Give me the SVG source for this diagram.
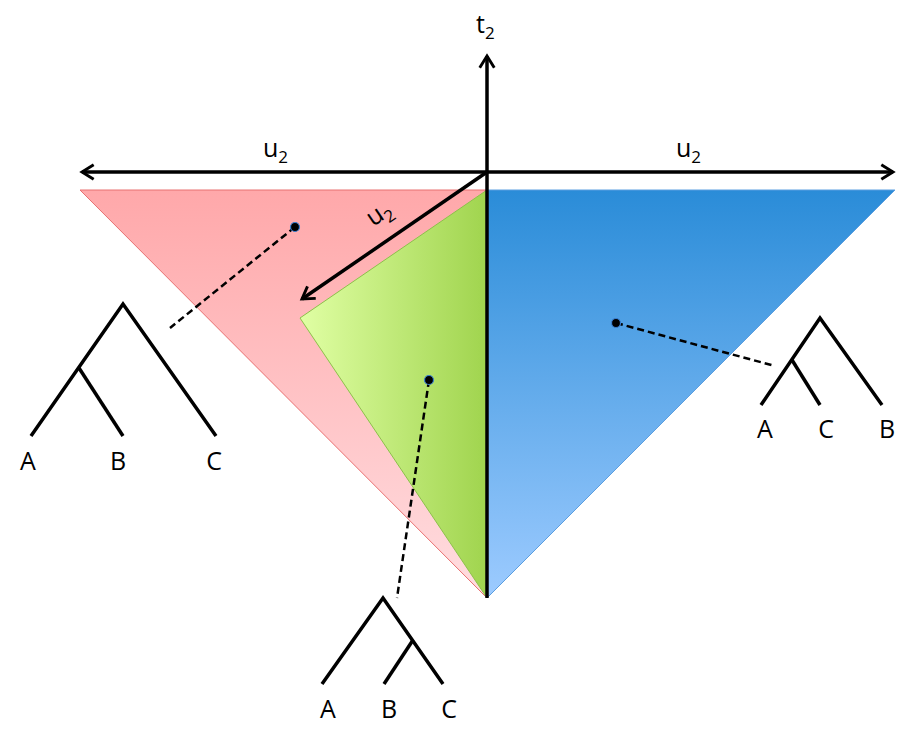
<svg xmlns="http://www.w3.org/2000/svg" width="921" height="734" viewBox="0 0 921 734">
<style>
.ax{stroke:#000;stroke-width:3.5;fill:none}
.tree{stroke:#000;stroke-width:3.5;fill:none;stroke-linecap:butt;stroke-linejoin:miter}
.dash{stroke:#000;stroke-width:2.5;stroke-dasharray:7,4;fill:none}
.dot{fill:#000;stroke:#3a7fd0;stroke-width:1.2}
text{font-family:"Open Sans","Liberation Sans",sans-serif;font-size:25px;fill:#000}
.sub{font-size:17px}
</style>
<defs>
<linearGradient id="gr" x1="0" y1="0" x2="0" y2="1">
<stop offset="0" stop-color="#ffa8aa"/><stop offset="1" stop-color="#ffdde0"/>
</linearGradient>
<linearGradient id="gb" x1="0" y1="0" x2="0" y2="1">
<stop offset="0" stop-color="#2a8cd8"/><stop offset="1" stop-color="#9dcbff"/>
</linearGradient>
<linearGradient id="gg" x1="0" y1="0" x2="1" y2="0">
<stop offset="0" stop-color="#e0ffa4"/><stop offset="1" stop-color="#a0d44e"/>
</linearGradient>
<marker id="ah" viewBox="0 0 12 12" refX="10" refY="6" markerWidth="5" markerHeight="5" markerUnits="strokeWidth" orient="auto-start-reverse">
<path d="M2,1 L10,6 L2,11" fill="none" stroke="#000" stroke-width="2"/>
</marker>
</defs>
<g id="regions">
<polygon id="red" points="80,190 487,190 487,598" fill="url(#gr)" stroke="#e87070" stroke-width="1"/>
<polygon id="blue" points="487,190 895,190 487,598" fill="url(#gb)" stroke="#5b9ee0" stroke-width="1"/>
<polygon id="green" points="487,190 300,318 487,598" fill="url(#gg)" stroke="#8cc04a" stroke-width="1"/>
</g>
<g id="connectors">
<line class="ax" x1="487" y1="598" x2="487" y2="56" marker-end="url(#ah)"/>
<line class="ax" x1="82" y1="172" x2="893" y2="172" marker-start="url(#ah)" marker-end="url(#ah)"/>
<line class="ax" x1="487" y1="172" x2="302" y2="299" marker-end="url(#ah)"/>
<line class="dash" x1="295" y1="227" x2="170" y2="328"/>
<line class="dash" x1="429" y1="380" x2="397" y2="598"/>
<line class="dash" x1="616" y1="323" x2="775" y2="366"/>
</g>
<g id="axis-labels">
<text x="476" y="33">t<tspan class="sub" dy="6">2</tspan></text>
<text x="263" y="157">u<tspan class="sub" dy="6">2</tspan></text>
<text x="676" y="157">u<tspan class="sub" dy="6">2</tspan></text>
<text transform="translate(373,227) rotate(-34)">u<tspan class="sub" dy="6">2</tspan></text>
</g>
<g id="points">
<circle class="dot" cx="295" cy="227" r="4.5"/>
<circle class="dot" cx="429" cy="380" r="4.5"/>
<circle class="dot" cx="616" cy="323" r="4.5"/>
</g>
<g id="tree-left">
<polyline class="tree" points="31,436 123,304 216,436"/>
<line class="tree" x1="79" y1="368" x2="123" y2="436"/>
<text x="28" y="470" text-anchor="middle">A</text>
<text x="118" y="470" text-anchor="middle">B</text>
<text x="214" y="470" text-anchor="middle">C</text>
</g>
<g id="tree-right">
<polyline class="tree" points="761,405 820,318 882,405"/>
<line class="tree" x1="792" y1="360" x2="820" y2="405"/>
<text x="765" y="438" text-anchor="middle">A</text>
<text x="826" y="438" text-anchor="middle">C</text>
<text x="887" y="438" text-anchor="middle">B</text>
</g>
<g id="tree-bottom">
<polyline class="tree" points="322,684 383,598 443,684"/>
<line class="tree" x1="413" y1="640" x2="384" y2="684"/>
<text x="328" y="718" text-anchor="middle">A</text>
<text x="389" y="718" text-anchor="middle">B</text>
<text x="449" y="718" text-anchor="middle">C</text>
</g>
</svg>
